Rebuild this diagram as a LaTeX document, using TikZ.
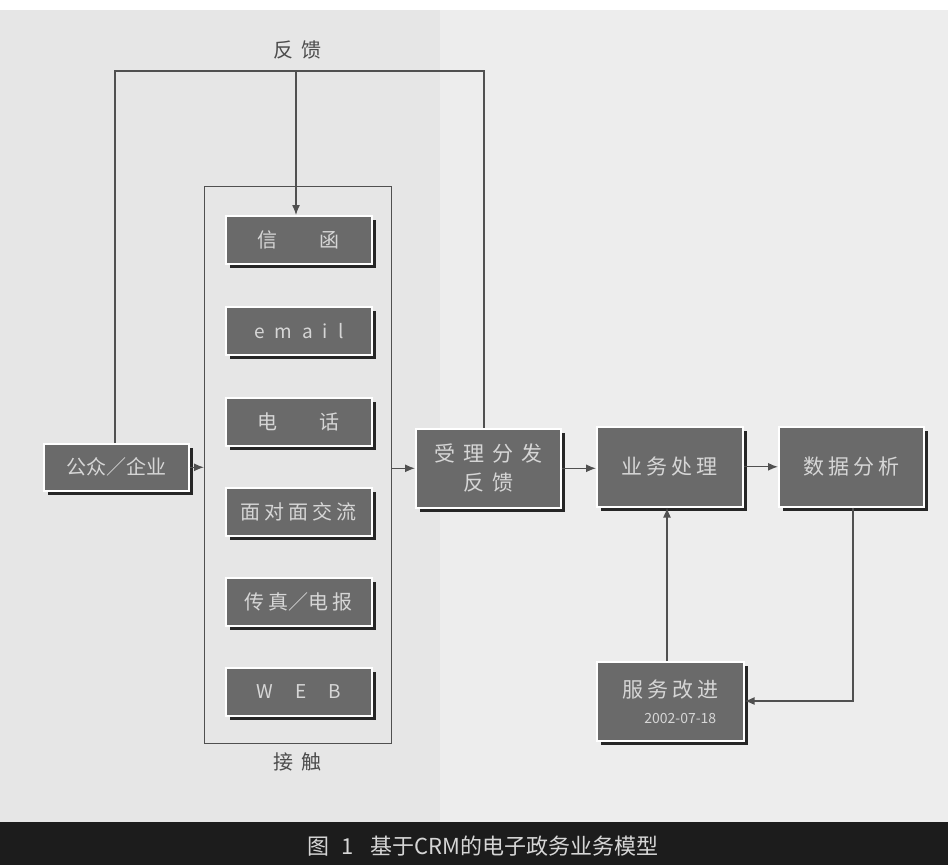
\documentclass[tikz,border=0pt]{standalone}
\usepackage{fontspec}
\setmainfont{Noto Sans CJK SC}
\usetikzlibrary{arrows.meta,shadows}
\definecolor{bgc}{HTML}{E6E6E6}
\definecolor{bgl}{HTML}{EDEDED}
\definecolor{boxfill}{HTML}{6A6A6A}
\definecolor{boxtxt}{HTML}{D6D6D6}
\definecolor{linec}{HTML}{505050}
\definecolor{capbg}{HTML}{1C1C1C}
\definecolor{captxt}{HTML}{D6D6D6}
\newcommand\gp{\hspace{4pt}}
\tikzset{
  boxnode/.style={draw=white, line width=1.6pt, fill=boxfill, text=boxtxt,
    font=\fontsize{20}{26}\selectfont, inner sep=0pt, align=center, anchor=north west,
    drop shadow={shadow xshift=4pt, shadow yshift=-4pt, fill=black!85, opacity=1}},
  conn/.style={draw=linec, line width=1.3pt},
  arr/.style={conn, -{Latex[length=10pt,width=8pt]}},
  lbl/.style={text=black!70, font=\fontsize{20}{24}\selectfont}
}
\begin{document}
\begin{tikzpicture}[x=1pt,y=-1pt]
\useasboundingbox (0,0) rectangle (948,865);
% background
\fill[bgc] (0,0) rectangle (948,822);
\fill[bgl] (440,10) rectangle (948,822);
\fill[white] (0,0) rectangle (948,10);
\fill[capbg] (0,822) rectangle (948,865);
\node[text=captxt, font=\fontsize{22}{24}\selectfont] (cap) at (483,846) {图\hspace{12pt}1\hspace{16pt}基于CRM的电子政务业务模型};

% contact frame
\node[draw=linec, line width=1.3pt, minimum width=187pt, minimum height=557pt, inner sep=0pt, anchor=north west] (frame) at (204,186) {};
\node[lbl] (jc) at (297,762) {接\hspace{8pt}触};

% boxes
\node[boxnode, minimum width=145pt, minimum height=47pt] (gz) at (43,443) {公众／企业};
\node[boxnode, minimum width=146pt, minimum height=48pt] (xh) at (225,215) {信\hspace{42pt}函};
\node[boxnode, minimum width=146pt, minimum height=48pt, font=\fontsize{19}{22}\selectfont] (em) at (225,306) {e\hspace{10pt}m\hspace{10pt}a\hspace{10pt}i\hspace{10pt}l};
\node[boxnode, minimum width=146pt, minimum height=48pt] (dh) at (225,397) {电\hspace{42pt}话};
\node[boxnode, minimum width=146pt, minimum height=48pt] (mdm) at (225,487) {面\gp 对\gp 面\gp 交\gp 流};
\node[boxnode, minimum width=146pt, minimum height=48pt] (cz) at (225,577) {传\gp 真／电\gp 报};
\node[boxnode, minimum width=146pt, minimum height=48pt, font=\fontsize{19}{22}\selectfont] (web) at (225,667) {W\hspace{22pt}E\hspace{22pt}B};
\node[boxnode, minimum width=145pt, minimum height=79pt, font=\fontsize{21}{29}\selectfont] (sl) at (415,428) {受\hspace{8pt}理\hspace{8pt}分\hspace{8pt}发\\反\hspace{8pt}馈};
\node[boxnode, minimum width=146pt, minimum height=80pt, font=\fontsize{21}{26}\selectfont] (yw) at (596,426) {业\gp 务\gp 处\gp 理};
\node[boxnode, minimum width=145pt, minimum height=80pt, font=\fontsize{21}{26}\selectfont] (sj) at (778,426) {数\gp 据\gp 分\gp 析};
\node[boxnode, minimum width=147pt, minimum height=79pt, font=\fontsize{21}{28}\selectfont] (fw) at (596,661) {服\gp 务\gp 改\gp 进\\[-2pt]\hspace*{20pt}{\fontsize{14}{16}\selectfont 2002-07-18}};

% helper coordinates
\coordinate (xl) at (115,71);
\coordinate (xr) at (484,71);
\coordinate (fb) at (296,71);
\coordinate (xu) at (667,0);
\coordinate (xd) at (853,701);
\node[lbl] (fbl) at (297,50) {反\hspace{8pt}馈};

% feedback loop
\draw[conn] (gz.north -| xl) -- (xl) -- (xr) -- (sl.north -| xr);
\draw[arr] (fb) -- (xh.north -| fb);

% main flow
\draw[arr] (gz.east) -- (gz.east -| frame.west);
\draw[arr] (frame.east |- sl) -- (sl.west);
\draw[arr] (sl.east) -- (sl.east -| yw.west);
\draw[arr] (yw.east) -- (yw.east -| sj.west);
\draw[arr] (fw.north -| xu) -- (yw.south -| xu);
\draw[arr] (sj.south -| xd) -- (xd) -- (fw.east |- xd);
\end{tikzpicture}
\end{document}
